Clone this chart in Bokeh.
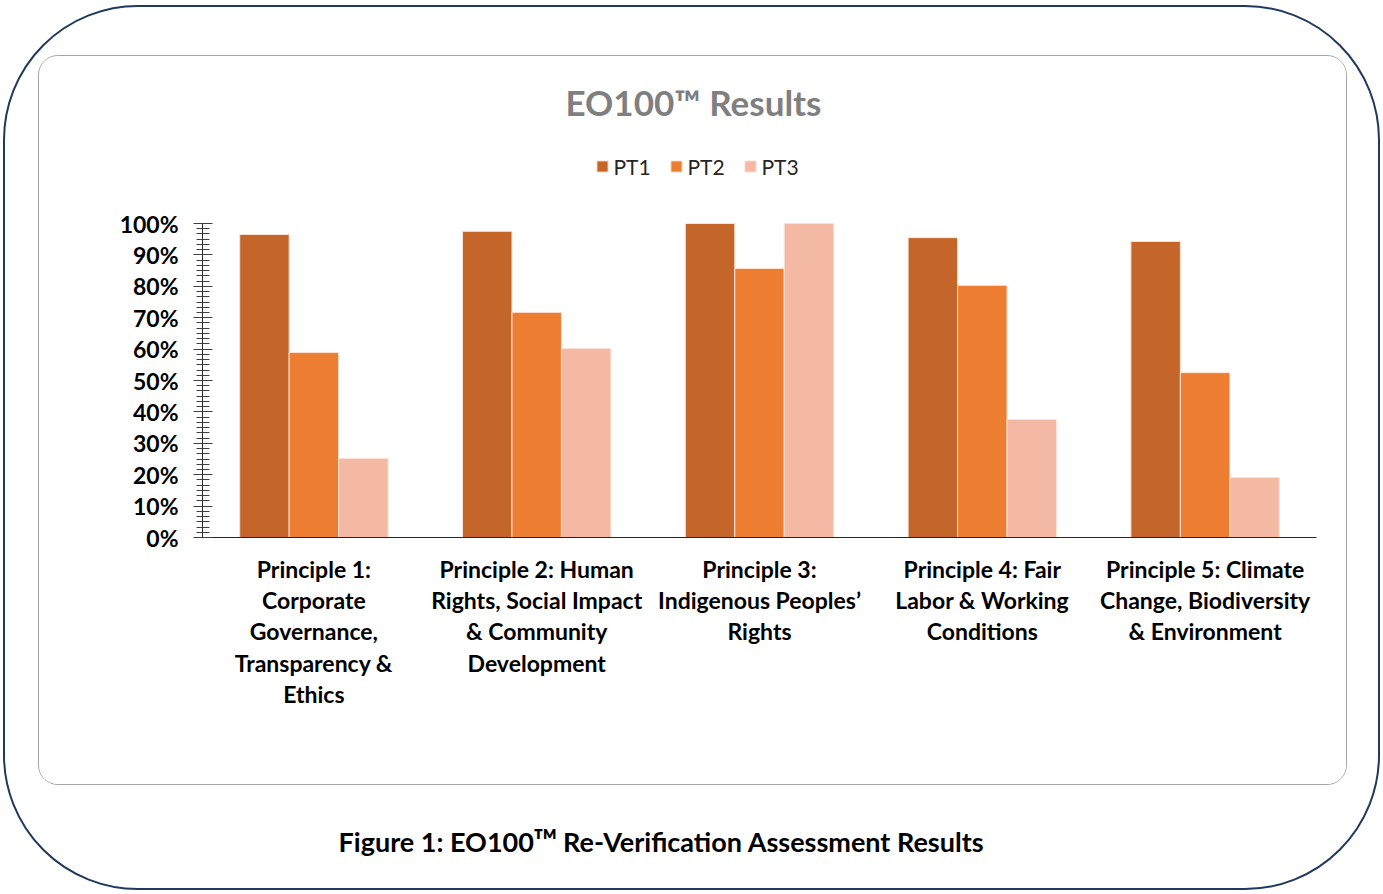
from bokeh.plotting import figure
from bokeh.layouts import column
from bokeh.models import (ColumnDataSource, FactorRange, Range1d, SingleIntervalTicker,
                          NumeralTickFormatter, Legend, LegendItem, Label)
from bokeh.transform import dodge
from bokeh.embed import file_html
from bokeh.resources import INLINE

categories = [
    "Principle 1:\nCorporate\nGovernance,\nTransparency &\nEthics",
    "Principle 2: Human\nRights, Social Impact\n& Community\nDevelopment",
    "Principle 3:\nIndigenous Peoples\u2019\nRights",
    "Principle 4: Fair\nLabor & Working\nConditions",
    "Principle 5: Climate\nChange, Biodiversity\n& Environment",
]
series = ["PT1", "PT2", "PT3"]
pt1 = [0.965, 0.975, 1.00, 0.955, 0.943]
pt2 = [0.589, 0.717, 0.857, 0.803, 0.525]
pt3 = [0.252, 0.602, 1.00, 0.376, 0.191]
colors = ["#C4652A", "#ED7D31", "#F4B9A5"]

title_text = "EO100\u2122 Results"
caption_text = "Figure 1: EO100\u1D40\u1D39 Re-Verification Assessment Results"

FONT = "Lato"

src = ColumnDataSource(dict(cat=categories, PT1=pt1, PT2=pt2, PT3=pt3))

# chart panel (inside grey rounded frame)
PW, PH = 1309, 730
FL, FR, FT, FB = 163, 32, 8, 249            # borders around the data frame
frame_h = PH - FT - FB                      # 473 px
y_end = frame_h / 314.0                     # 100% sits 314 px above the baseline

p = figure(width=PW, height=PH, x_range=FactorRange(*categories, range_padding=0),
           y_range=Range1d(0, y_end), output_backend="svg", toolbar_location=None,
           min_border_left=FL, min_border_right=FR, min_border_top=FT, min_border_bottom=FB,
           styles={"border": "1.5px solid #A6A6A6", "border-radius": "20px", "overflow": "hidden"})
p.outline_line_color = None
p.grid.grid_line_color = None
p.background_fill_color = "white"
p.border_fill_color = "white"

bw = 0.222
offs = [-bw, 0.0, bw]
renderers = []
for s, c, o in zip(series, colors, offs):
    r = p.vbar(x=dodge("cat", o, range=p.x_range), top=s, width=bw, source=src,
               fill_color=c, line_color="#FBE3D6", line_width=1)
    renderers.append(r)

# y axis
p.yaxis.bounds = (0, 1)
p.yaxis.ticker = SingleIntervalTicker(interval=0.1, num_minor_ticks=6)
p.yaxis.formatter = NumeralTickFormatter(format="0%")
p.yaxis.major_label_text_font = FONT
p.yaxis.major_label_text_font_style = "bold"
p.yaxis.major_label_text_font_size = "23px"
p.yaxis.major_label_text_color = "#000000"
p.yaxis.major_tick_out = 9
p.yaxis.major_tick_in = 10
p.yaxis.minor_tick_out = 6
p.yaxis.minor_tick_in = 7
p.yaxis.major_tick_line_color = "#404040"
p.yaxis.minor_tick_line_color = "#404040"
p.yaxis.axis_line_color = "#262626"
p.yaxis.major_label_standoff = 15

# x axis
p.xaxis.major_tick_line_color = None
p.xaxis.major_tick_out = 0
p.xaxis.minor_tick_line_color = None
p.xaxis.axis_line_color = "#262626"
p.xaxis.major_label_text_font = FONT
p.xaxis.major_label_text_font_style = "bold"
p.xaxis.major_label_text_font_size = "23px"
p.xaxis.major_label_text_color = "#000000"
p.xaxis.major_label_text_line_height = 1.12
p.xaxis.major_label_standoff = 17

p.add_layout(Label(x=491, y=436, x_units="screen", y_units="screen", text=title_text,
                   text_align="center", text_baseline="middle", text_font=FONT,
                   text_font_style="bold", text_font_size="35px", text_color="#7F7F7F"))

legend = Legend(items=[LegendItem(label=s, renderers=[r]) for s, r in zip(series, renderers)],
                orientation="horizontal", location=(393, 358), margin=0, padding=0,
                spacing=15, glyph_width=14, glyph_height=14, label_standoff=5, label_width=40,
                label_text_font=FONT, label_text_font_size="21px", label_text_color="#262626",
                border_line_color=None, background_fill_alpha=0)
p.add_layout(legend, "center")

# caption panel
cap = figure(width=PW, height=103, x_range=Range1d(0, 1), y_range=Range1d(0, 1),
             output_backend="svg", toolbar_location=None,
             min_border_left=0, min_border_right=0, min_border_top=0, min_border_bottom=0)
cap.axis.visible = False
cap.grid.visible = False
cap.outline_line_color = None
cap.background_fill_color = None
cap.border_fill_color = None
cap.add_layout(Label(x=460, y=47, x_units="screen", y_units="screen", text=caption_text,
                     text_align="center", text_baseline="middle", text_font=FONT,
                     text_font_style="bold", text_font_size="27px", text_color="#000000"))

layout = column(p, cap, styles={
    "margin-left": "3px", "margin-top": "5px",
    "border": "2.5px solid #1F3A5C", "border-radius": "135px",
    "padding": "47.5px 31.5px 0px 32.5px", "background": "white"})

open("out.html", "w").write(file_html(layout, INLINE))
